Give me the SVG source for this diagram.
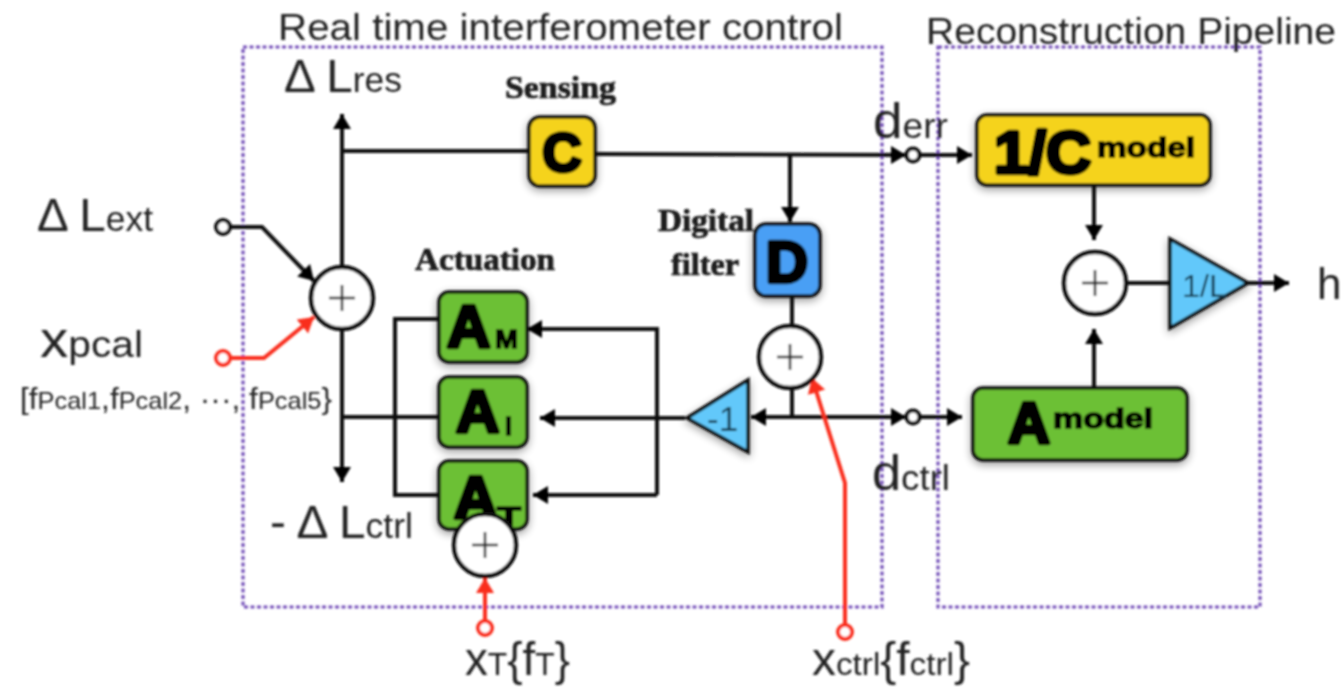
<svg xmlns="http://www.w3.org/2000/svg" width="1342" height="687" viewBox="0 0 1342 687">
<defs>
<marker id="ah" markerUnits="userSpaceOnUse" viewBox="0 0 16 18" refX="15" refY="9" markerWidth="16" markerHeight="18" orient="auto"><path d="M0 0L15 9L0 18Z" fill="#000"/></marker>
<marker id="ar" markerUnits="userSpaceOnUse" viewBox="0 0 16 18" refX="15" refY="9" markerWidth="16" markerHeight="18" orient="auto"><path d="M0 0L15 9L0 18Z" fill="#f92f1e"/></marker>
<filter id="sh" x="-30%" y="-30%" width="170%" height="170%"><feGaussianBlur in="SourceAlpha" stdDeviation="4"/><feOffset dy="3"/><feComponentTransfer><feFuncA type="linear" slope="0.4"/></feComponentTransfer><feMerge><feMergeNode/><feMergeNode in="SourceGraphic"/></feMerge></filter>
<filter id="b" x="-5%" y="-5%" width="110%" height="110%"><feGaussianBlur stdDeviation="0.8"/></filter>
</defs>
<style>
text{font-family:"Liberation Sans",Arial,sans-serif;fill:#222}
.s{font-family:"Liberation Serif","Times New Roman",serif;font-weight:bold;font-size:31px;fill:#1a1a1a;stroke:#1a1a1a;stroke-width:.7}
.big{font-weight:bold;fill:#000;stroke:#000;stroke-width:4.5;stroke-linejoin:round}
.sub{font-weight:bold;fill:#000;stroke:#000;stroke-width:1.5}
.l{fill:none;stroke:#111;stroke-width:4}
.a{marker-end:url(#ah)}
.r{fill:none;stroke:#f92f1e;stroke-width:4;marker-end:url(#ar)}
.box{fill:none;stroke:#7450b8;stroke-width:3.2;stroke-dasharray:4 2.5}
.sum{fill:#fff;stroke:#111;stroke-width:4.5}
.plus{fill:none;stroke:#222;stroke-width:2.5}
.t{stroke:#111;stroke-width:3.5;filter:url(#sh)}
.y{fill:#f5d31a}.g{fill:#6cc035}.bl{fill:#4a9ff5}.c{fill:#62c8fa}
.o{fill:#fff;stroke:#111;stroke-width:4}
.or{fill:#fff;stroke:#f92f1e;stroke-width:4}
</style>
<g filter="url(#b)">
<g id="frames">
<rect class="box" x="243" y="47" width="639" height="560"/>
<rect class="box" x="938" y="47" width="322" height="560"/>
</g>
<g id="connectors">
<path class="l a" d="M342 272V114"/>
<path class="l" d="M342 151H530"/>
<path class="l a" d="M595 154L906 155"/>
<path class="l a" d="M790 154V222"/>
<path class="l a" d="M918 155H972"/>
<path class="l a" d="M223 227H262L314 281"/>
<path class="r" d="M223 358H264L314 317"/>
<path class="l a" d="M342 328V482"/>
<path class="l" d="M342 417H440"/>
<path class="l" d="M440 319H395V495H440"/>
<path class="l a" d="M657 495V329H527"/>
<path class="l a" d="M685 418H540"/>
<path class="l a" d="M657 495H533"/>
<path class="l" d="M792 297V330"/>
<path class="l" d="M792 388V417"/>
<path class="l a" d="M905 417H751"/>
<path class="l a" d="M790 417H906"/>
<path class="l a" d="M918 417H962"/>
<path class="r" d="M845 626V483L812 378"/>
<path class="r" d="M485 622V578"/>
<path class="l a" d="M1094 184V240"/>
<path class="l a" d="M1094 388V329"/>
<path class="l" d="M1127 283H1170"/>
<path class="l a" d="M1245 283H1289"/>
</g>
<g id="node-c"><rect class="y t" x="529" y="117" width="66" height="69" rx="11"/><text class="big" x="562" y="171" font-size="54" text-anchor="middle">C</text></g>
<g id="node-d"><rect class="bl t" x="755" y="224" width="65" height="72" rx="11"/><text class="big" x="787" y="282" font-size="58" text-anchor="middle">D</text></g>
<g id="node-am"><rect class="g t" x="439" y="292" width="88" height="70" rx="10"/><text class="big" x="447" y="347" font-size="60">A</text><text class="sub" x="495" y="348" font-size="25" textLength="23" lengthAdjust="spacingAndGlyphs">M</text></g>
<g id="node-ai"><rect class="g t" x="439" y="377" width="88" height="70" rx="10"/><text class="big" x="456" y="432" font-size="60">A</text><text class="sub" x="505" y="435" font-size="25">I</text></g>
<g id="node-at"><rect class="g t" x="439" y="461" width="88" height="68" rx="10"/><text class="big" x="454" y="518" font-size="60">A</text><text class="sub" x="497" y="527" font-size="30" textLength="24" lengthAdjust="spacingAndGlyphs">T</text></g>
<g id="node-cmodel"><rect class="y t" x="977" y="115" width="233" height="70" rx="10"/><text class="big" x="994" y="173" font-size="60" textLength="97" lengthAdjust="spacingAndGlyphs">1/C</text><text class="sub" x="1097" y="157" font-size="28" textLength="98" lengthAdjust="spacingAndGlyphs">model</text></g>
<g id="node-amodel"><rect class="g t" x="973" y="388" width="214" height="72" rx="10"/><text class="big" x="1008" y="443" font-size="58">A</text><text class="sub" x="1053" y="428" font-size="28" textLength="100" lengthAdjust="spacingAndGlyphs">model</text></g>
<g id="sum1"><circle class="sum" cx="342" cy="298" r="31"/><path class="plus" d="M329 298H355M342 285V311"/></g>
<g id="sum2"><circle class="sum" cx="790" cy="357" r="31"/><path class="plus" d="M777 357H803M790 344V370"/></g>
<g id="sum3"><circle class="sum" cx="485" cy="545" r="31"/><path class="plus" d="M472 545H498M485 532V558"/></g>
<g id="sum4"><circle class="sum" cx="1095" cy="283" r="31"/><path class="plus" d="M1082 283H1108M1095 270V296"/></g>
<g id="gain-l"><path class="c t" d="M1170 239L1248 283L1170 328Z"/><text style="fill:#163f55" x="1182" y="297" font-size="31" textLength="45" lengthAdjust="spacingAndGlyphs">1/L</text></g>
<g id="gain-1"><path class="c t" d="M748 380L687 418L748 452Z"/><text style="fill:#163f55" x="707" y="431" font-size="35">-1</text></g>
<g id="ports">
<circle class="o" cx="223" cy="227" r="7"/>
<circle class="or" cx="223" cy="358" r="7"/>
<circle class="o" cx="913" cy="155" r="6.5"/>
<circle class="o" cx="913" cy="417" r="6.5"/>
<circle class="or" cx="485" cy="628" r="7"/>
<circle class="or" cx="845" cy="632" r="7"/>
</g>
<g id="labels">
<text x="278" y="40" font-size="37" textLength="565" lengthAdjust="spacingAndGlyphs">Real time interferometer control</text>
<text x="926" y="44" font-size="36" textLength="410" lengthAdjust="spacingAndGlyphs">Reconstruction Pipeline</text>
<text x="284" y="92" font-size="47" textLength="118" lengthAdjust="spacingAndGlyphs">Δ L<tspan font-size="35">res</tspan></text>
<text x="37" y="231" font-size="47" textLength="116" lengthAdjust="spacingAndGlyphs">Δ L<tspan font-size="35">ext</tspan></text>
<text x="40" y="357" font-size="50" textLength="103" lengthAdjust="spacingAndGlyphs">x<tspan font-size="36">pcal</tspan></text>
<text x="20" y="409" font-size="30" textLength="312" lengthAdjust="spacingAndGlyphs">[f<tspan font-size="24">Pcal1</tspan>,f<tspan font-size="24">Pcal2</tspan>, ···, f<tspan font-size="24">Pcal5</tspan>}</text>
<text x="270" y="538" font-size="47" textLength="143" lengthAdjust="spacingAndGlyphs">- Δ L<tspan font-size="35">ctrl</tspan></text>
<text x="873" y="138" font-size="50" textLength="75" lengthAdjust="spacingAndGlyphs">d<tspan font-size="35">err</tspan></text>
<text x="872" y="490" font-size="50" textLength="78" lengthAdjust="spacingAndGlyphs">d<tspan font-size="35">ctrl</tspan></text>
<text x="1317" y="299" font-size="44">h</text>
<text x="465" y="675" font-size="46" textLength="105" lengthAdjust="spacingAndGlyphs">x<tspan font-size="32">T</tspan>{f<tspan font-size="32">T</tspan>}</text>
<text x="812" y="675" font-size="46" textLength="158" lengthAdjust="spacingAndGlyphs">x<tspan font-size="32">ctrl</tspan>{f<tspan font-size="32">ctrl</tspan>}</text>
<text class="s" x="505" y="98" textLength="111" lengthAdjust="spacingAndGlyphs">Sensing</text>
<text class="s" x="415" y="270" textLength="140" lengthAdjust="spacingAndGlyphs">Actuation</text>
<text class="s" x="658" y="231" textLength="96" lengthAdjust="spacingAndGlyphs">Digital</text>
<text class="s" x="671" y="275" textLength="68" lengthAdjust="spacingAndGlyphs">filter</text>
</g>
</g>
</svg>
